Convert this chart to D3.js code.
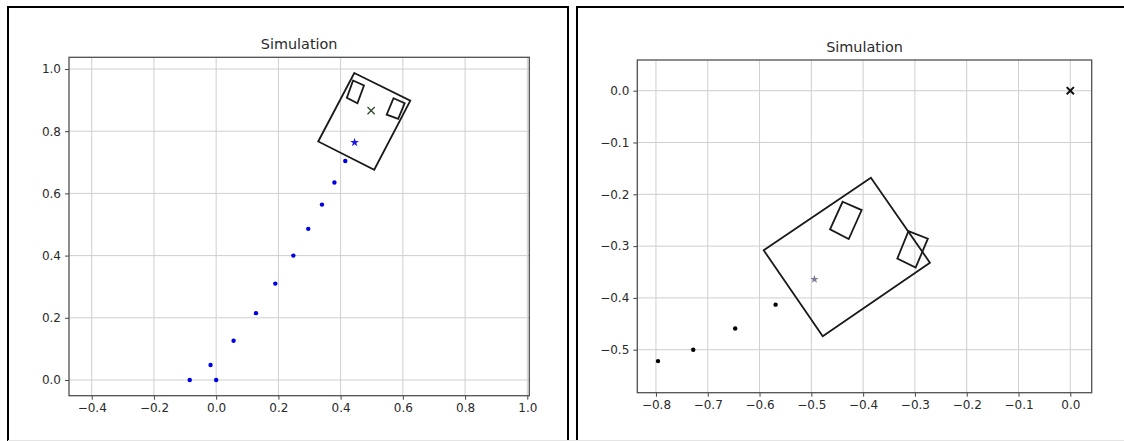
<!DOCTYPE html>
<html>
<head>
<meta charset="utf-8">
<script src="https://cdn.jsdelivr.net/npm/d3@7"></script>
<style>
  html, body { margin: 0; padding: 0; background: #fff; }
  svg { display: block; font-family: "DejaVu Sans", sans-serif; }
</style>
</head>
<body>
<svg id="chart" width="1124" height="441"></svg>
<script>
// ---------------- DATA ----------------
const titles = ["Simulation", "Simulation"];

// Left panel
const leftTicksX = [-0.4, -0.2, 0.0, 0.2, 0.4, 0.6, 0.8, 1.0];
const leftTicksY = [0.0, 0.2, 0.4, 0.6, 0.8, 1.0];
const leftPathX = [-0.085, 0.0, -0.018, 0.056, 0.128, 0.190, 0.248, 0.296, 0.340, 0.380, 0.415];
const leftPathY = [0.000, 0.000, 0.048, 0.126, 0.215, 0.310, 0.400, 0.486, 0.564, 0.635, 0.704];
const leftStar = [0.445, 0.764];
const leftGoal = [0.498, 0.866];
const leftBodyX = [0.444, 0.624, 0.508, 0.328];
const leftBodyY = [0.987, 0.898, 0.676, 0.767];
const leftWheel1X = [0.440, 0.475, 0.454, 0.420];
const leftWheel1Y = [0.963, 0.947, 0.890, 0.907];
const leftWheel2X = [0.570, 0.606, 0.585, 0.548];
const leftWheel2Y = [0.906, 0.890, 0.840, 0.853];

// Right panel
const rightTicksX = [-0.8, -0.7, -0.6, -0.5, -0.4, -0.3, -0.2, -0.1, 0.0];
const rightTicksY = [0.0, -0.1, -0.2, -0.3, -0.4, -0.5];
const rightPathX = [-0.796, -0.728, -0.647, -0.569];
const rightPathY = [-0.522, -0.500, -0.459, -0.413];
const rightStar = [-0.494, -0.364];
const rightGoal = [0.0, 0.0];
const rightBodyX = [-0.385, -0.271, -0.478, -0.592];
const rightBodyY = [-0.168, -0.332, -0.474, -0.308];
const rightWheel1X = [-0.4396, -0.4028, -0.4278, -0.4639];
const rightWheel1Y = [-0.2144, -0.2304, -0.2863, -0.2677];
const rightWheel2X = [-0.3125, -0.2750, -0.2986, -0.3340];
const rightWheel2Y = [-0.2709, -0.2856, -0.3415, -0.3241];

// ---------------- DRAW ----------------
const svg = d3.select("#chart");
const fmt = d3.format(".1f");
const zip = (xs, ys) => xs.map((x, i) => [x, ys[i]]);

// panel frames
const frame = svg.append("g").attr("fill", "none").attr("stroke", "#000").attr("stroke-width", 2);
frame.append("path").attr("d", "M8,441 L8,7 L568,7 L568,441");
frame.append("path").attr("d", "M577,441 L577,7 L1124,7");
svg.append("line").attr("x1", 8).attr("x2", 1124).attr("y1", 440.5).attr("y2", 440.5)
  .attr("stroke", "#e4e4e4").attr("stroke-width", 1);

function panel(cfg) {
  const x = d3.scaleLinear().domain(cfg.xDomain).range([cfg.left, cfg.right]);
  const y = d3.scaleLinear().domain(cfg.yDomain).range([cfg.bottom, cfg.top]);
  const g = svg.append("g");

  const cid = "clip" + cfg.id;
  g.append("clipPath").attr("id", cid).append("rect")
    .attr("x", cfg.left).attr("y", cfg.top)
    .attr("width", cfg.right - cfg.left).attr("height", cfg.bottom - cfg.top);

  // grid
  const grid = g.append("g").attr("stroke", "#cfcfcf").attr("stroke-width", 1);
  cfg.ticksX.forEach(t => grid.append("line")
    .attr("x1", x(t)).attr("x2", x(t)).attr("y1", cfg.top).attr("y2", cfg.bottom));
  cfg.ticksY.forEach(t => grid.append("line")
    .attr("y1", y(t)).attr("y2", y(t)).attr("x1", cfg.left).attr("x2", cfg.right));

  // axes
  const ax = g.append("g").attr("transform", `translate(0,${cfg.bottom})`)
    .call(d3.axisBottom(x).tickValues(cfg.ticksX).tickFormat(fmt).tickSizeOuter(0).tickSize(4).tickPadding(4));
  const ay = g.append("g").attr("transform", `translate(${cfg.left},0)`)
    .call(d3.axisLeft(y).tickValues(cfg.ticksY).tickFormat(fmt).tickSizeOuter(0).tickSize(4).tickPadding(4));
  [ax, ay].forEach(a => {
    a.select(".domain").remove();
    a.selectAll(".tick line").attr("stroke", "#444").attr("stroke-width", 1);
    a.selectAll(".tick text").attr("fill", "#2a2a2a").style("font-size", "12px")
      .style("font-family", "'DejaVu Sans', sans-serif");
  });

  // spines
  g.append("rect").attr("x", cfg.left).attr("y", cfg.top)
    .attr("width", cfg.right - cfg.left).attr("height", cfg.bottom - cfg.top)
    .attr("fill", "none").attr("stroke", "#505050").attr("stroke-width", 1.3);

  // title
  g.append("text").attr("x", (cfg.left + cfg.right) / 2).attr("y", cfg.titleY)
    .attr("text-anchor", "middle").attr("fill", "#2a2a2a")
    .style("font-size", "14.4px").text(cfg.title);

  const plot = g.append("g").attr("clip-path", `url(#${cid})`);
  const line = d3.line().x(d => x(d[0])).y(d => y(d[1])).curve(d3.curveLinearClosed);

  // robot body and wheels
  cfg.polys.forEach(p => plot.append("path").attr("d", line(p))
    .attr("fill", "none").attr("stroke", "#1a1a1a").attr("stroke-width", 1.8)
    .attr("stroke-linejoin", "miter"));

  // trajectory dots
  plot.selectAll("circle.pt").data(cfg.path).join("circle").attr("class", "pt")
    .attr("cx", d => x(d[0])).attr("cy", d => y(d[1])).attr("r", 2.2)
    .attr("fill", cfg.dotColor);

  // star
  plot.append("path").attr("d", d3.symbol().type(d3.symbolStar).size(cfg.starSize)())
    .attr("transform", `translate(${x(cfg.star[0])},${y(cfg.star[1])})`)
    .attr("fill", cfg.starColor);

  // goal x
  const s = cfg.goalSize;
  plot.append("path")
    .attr("d", `M${-s},${-s}L${s},${s}M${-s},${s}L${s},${-s}`)
    .attr("transform", `translate(${x(cfg.goal[0])},${y(cfg.goal[1])})`)
    .attr("stroke", cfg.goalColor).attr("stroke-width", cfg.goalWidth).attr("fill", "none");
}

panel({
  id: "L", title: titles[0],
  left: 69, right: 529.3, top: 57.3, bottom: 395.7, titleY: 48.5,
  xDomain: [-0.473, 1.0064], yDomain: [-0.0505, 1.0376],
  ticksX: leftTicksX, ticksY: leftTicksY,
  path: zip(leftPathX, leftPathY), dotColor: "#0000e6",
  star: leftStar, starColor: "#1a1ae0", starSize: 24,
  goal: leftGoal, goalColor: "#2f4a2f", goalSize: 3.6, goalWidth: 1.3,
  polys: [zip(leftBodyX, leftBodyY), zip(leftWheel1X, leftWheel1Y), zip(leftWheel2X, leftWheel2Y)]
});

panel({
  id: "R", title: titles[1],
  left: 637.3, right: 1091.7, top: 60, bottom: 392.7, titleY: 51.5,
  xDomain: [-0.836, 0.0413], yDomain: [-0.583, 0.0593],
  ticksX: rightTicksX, ticksY: rightTicksY,
  path: zip(rightPathX, rightPathY), dotColor: "#000",
  star: rightStar, starColor: "#7d7a9a", starSize: 22,
  goal: rightGoal, goalColor: "#111", goalSize: 3.6, goalWidth: 2,
  polys: [zip(rightBodyX, rightBodyY), zip(rightWheel1X, rightWheel1Y), zip(rightWheel2X, rightWheel2Y)]
});
</script>
</body>
</html>
